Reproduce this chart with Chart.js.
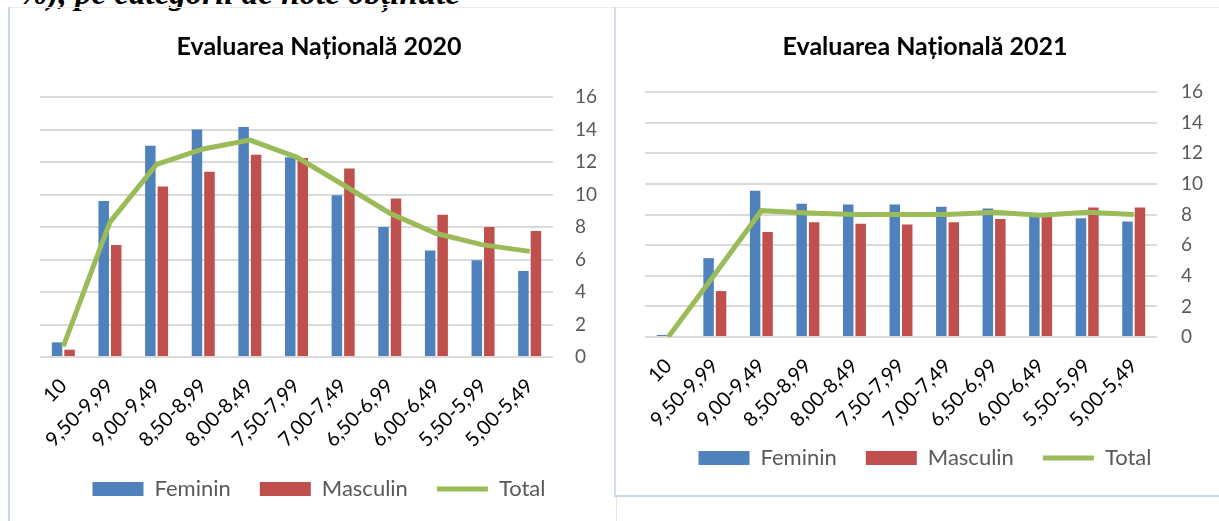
<!DOCTYPE html>
<html>
<head>
<meta charset="utf-8">
<script src="https://cdn.jsdelivr.net/npm/chart.js@4.4.0/dist/chart.umd.min.js"></script>
<style>
  body { margin: 0; background: #fff; width: 1219px; height: 521px; overflow: hidden; position: relative; }
  #cap { position: absolute; left: 20px; top: -23px; font: bold italic 33px "Liberation Serif", serif; line-height: 33px; white-space: nowrap; color: #000; }
  .ln { position: absolute; }
  canvas { position: absolute; top: 0; }
</style>
</head>
<body>
<div id="cap">%), pe categorii de note obținute</div>
<div class="ln" style="left:8px;top:7px;width:1211px;height:1px;background:#ececec"></div>
<div class="ln" style="left:8px;top:7px;width:2px;height:514px;background:#c9d6e8"></div>
<div class="ln" style="left:614px;top:7px;width:2px;height:489px;background:#d3deed"></div>
<div class="ln" style="left:614px;top:495px;width:605px;height:2px;background:#c9d6e8"></div>
<div class="ln" style="left:616px;top:497px;width:1px;height:24px;background:#e6e6e6"></div>

<canvas id="c2020" width="602" height="521" style="left:8px"></canvas>
<canvas id="c2021" width="605" height="496" style="left:614px"></canvas>

<script>
// categorii de note
const categories = ['10', '9,50-9,99', '9,00-9,49', '8,50-8,99', '8,00-8,49', '7,50-7,99',
                    '7,00-7,49', '6,50-6,99', '6,00-6,49', '5,50-5,99', '5,00-5,49'];

// Evaluarea Nationala 2020
const fem2020 = [0.9, 9.6, 13.0, 14.0, 14.15, 12.3, 9.95, 8.0, 6.55, 5.95, 5.3];
const masc2020 = [0.45, 6.9, 10.5, 11.4, 12.45, 12.25, 11.6, 9.75, 8.75, 8.0, 7.75];
const total2020 = [0.65, 8.3, 11.85, 12.8, 13.35, 12.3, 10.6, 8.85, 7.6, 6.9, 6.5];

// Evaluarea Nationala 2021
const fem2021 = [0.13, 5.15, 9.55, 8.7, 8.65, 8.65, 8.5, 8.4, 7.95, 7.75, 7.55];
const masc2021 = [0, 3.0, 6.85, 7.5, 7.4, 7.35, 7.5, 7.7, 8.0, 8.45, 8.45];
const total2021 = [0, 4.1, 8.25, 8.1, 8.0, 8.0, 8.0, 8.15, 7.95, 8.15, 8.0];

const yMax = 16;
const yStep = 2;

function makeChart(id, title, fem, masc, tot, g) {
    const ctx = document.getElementById(id).getContext('2d');
    return new Chart(ctx, {
        type: 'bar',
        data: {
            labels: categories,
            datasets: [
                { label: 'Feminin', data: fem, backgroundColor: '#4f81bd', borderWidth: 0,
                  categoryPercentage: 0.536, barPercentage: 0.84 },
                { label: 'Masculin', data: masc, backgroundColor: '#c0504d', borderWidth: 0,
                  categoryPercentage: 0.536, barPercentage: 0.84 },
                { type: 'line', label: 'Total', data: tot, borderColor: '#9bbb59', backgroundColor: '#9bbb59',
                  borderWidth: 5, pointRadius: 0, tension: 0, order: -1 }
            ]
        },
        options: {
            responsive: false,
            animation: false,
            layout: { padding: { left: g.padLeft, right: g.padRight, top: 0, bottom: g.padBottom } },
            scales: {
                x: {
                    grid: { display: false, drawTicks: false },
                    border: { display: false },
                    ticks: { autoSkip: false, minRotation: 45, maxRotation: 45, padding: 17,
                             color: '#000', font: { family: 'Lato', size: 20 } },
                    afterFit: (s) => {
                        s.height = g.xHeight;
                        // let the rotated labels run under the legend box instead of being clipped
                        s._computeLabelArea = () => undefined;
                    }
                },
                y: {
                    position: 'right',
                    min: 0, max: yMax,
                    grid: { color: '#dadada', lineWidth: 2, drawTicks: false },
                    border: { display: false },
                    ticks: { stepSize: yStep, padding: g.tickPad, color: '#595959',
                             font: { family: 'Lato', size: 19 } },
                    afterFit: (s) => { s.width = g.yWidth; }
                }
            },
            plugins: {
                title: {
                    display: true, text: title, color: '#000',
                    font: { family: 'Lato', weight: 'bold', size: 25 },
                    padding: { top: 32, bottom: g.titleBottom }
                },
                legend: {
                    position: 'bottom',
                    labels: {
                        usePointStyle: true, pointStyleWidth: 51, boxHeight: 14, padding: 29,
                        color: '#595959', font: { family: 'Lato', size: 22 },
                        sort: (a, b) => a.datasetIndex - b.datasetIndex,
                        generateLabels: (chart) => {
                            const items = Chart.defaults.plugins.legend.labels.generateLabels(chart);
                            items.forEach(it => {
                                if (it.datasetIndex === 2) { it.pointStyle = 'line'; it.lineWidth = 5; it.strokeStyle = '#9bbb59'; }
                                else { it.pointStyle = 'rect'; it.lineWidth = 0; }
                            });
                            return items;
                        }
                    }
                },
                tooltip: { enabled: false }
            }
        }
    });
}

makeChart('c2020', 'Evaluarea Națională 2020', fem2020, masc2020, total2020,
    { padLeft: 32, padRight: 12, padBottom: 11, xHeight: 92, yWidth: 45, tickPad: 22, titleBottom: 35 });
makeChart('c2021', 'Evaluarea Națională 2021', fem2021, masc2021, total2021,
    { padLeft: 31, padRight: 14, padBottom: 17, xHeight: 81, yWidth: 48, tickPad: 24, titleBottom: 30 });
</script>
</body>
</html>
